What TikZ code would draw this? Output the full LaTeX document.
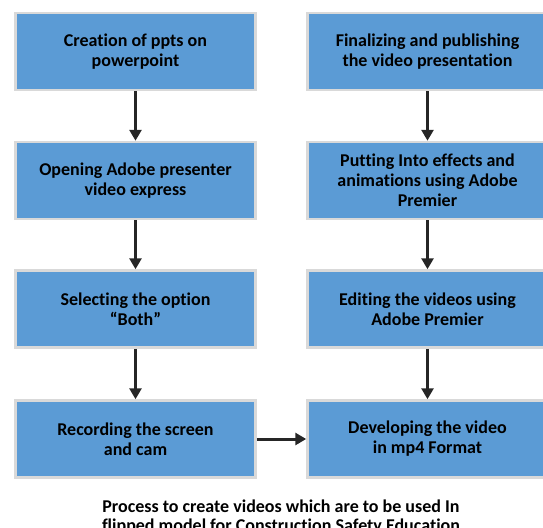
\documentclass[tikz,border=0pt]{standalone}
\usepackage{fontspec}
\setmainfont{Carlito}[Ligatures={TeX,NoCommon}]
\usepackage{tikz}
\usetikzlibrary{arrows.meta, positioning}
\definecolor{boxblue}{HTML}{5B9BD5}
\definecolor{boxrim}{HTML}{D9D9D9}
\definecolor{arrowgray}{HTML}{262626}
\tikzset{>={Triangle[length=11pt,width=12pt]}}
\tikzset{stepbox/.style={draw=boxrim, line width=2.5pt, fill=boxblue,
    minimum width=240pt, minimum height=77pt, inner sep=0pt,
    align=center, font=\fontsize{18}{20}\selectfont\bfseries}}
\tikzset{flow/.style={->, draw=arrowgray, line width=3pt}}

\begin{document}
\begin{tikzpicture}[x=1pt,y=-1pt]
  \useasboundingbox (0,0) rectangle (543,527);
  \node[stepbox] (ppts) at (135.5,51.5) {Creation of ppts on\\powerpoint};
  \node[stepbox] (adobe) at (135.5,180.5) {Opening Adobe presenter\\video express};
  \node[stepbox] (both) at (135.5,309) {Selecting the option\\``Both''};
  \node[stepbox] (record) at (135.5,439) {Recording the screen\\and cam};
  \node[stepbox] (publish) at (427.5,51.5) {Finalizing and publishing\\the video presentation};
  \node[stepbox] (effects) at (427.5,180.5) {Putting Into effects and\\animations using Adobe\\Premier};
  \node[stepbox] (editing) at (427.5,309) {Editing the videos using\\Adobe Premier};
  \node[stepbox] (mpfour) at (427.5,439) {Developing the video\\in mp4 Format};
  \draw[flow] (ppts) -- (adobe);
  \draw[flow] (adobe) -- (both);
  \draw[flow] (both) -- (record);
  \draw[flow] (publish) -- (effects);
  \draw[flow] (effects) -- (editing);
  \draw[flow] (editing) -- (mpfour);
  \draw[flow] (record) -- (mpfour);
  \node[align=center, font=\fontsize{18}{19.5}\selectfont\bfseries] (caption) at (281,517)
    {Process to create videos which are to be used In\\flipped model for Construction Safety Education};
\end{tikzpicture}
\end{document}
